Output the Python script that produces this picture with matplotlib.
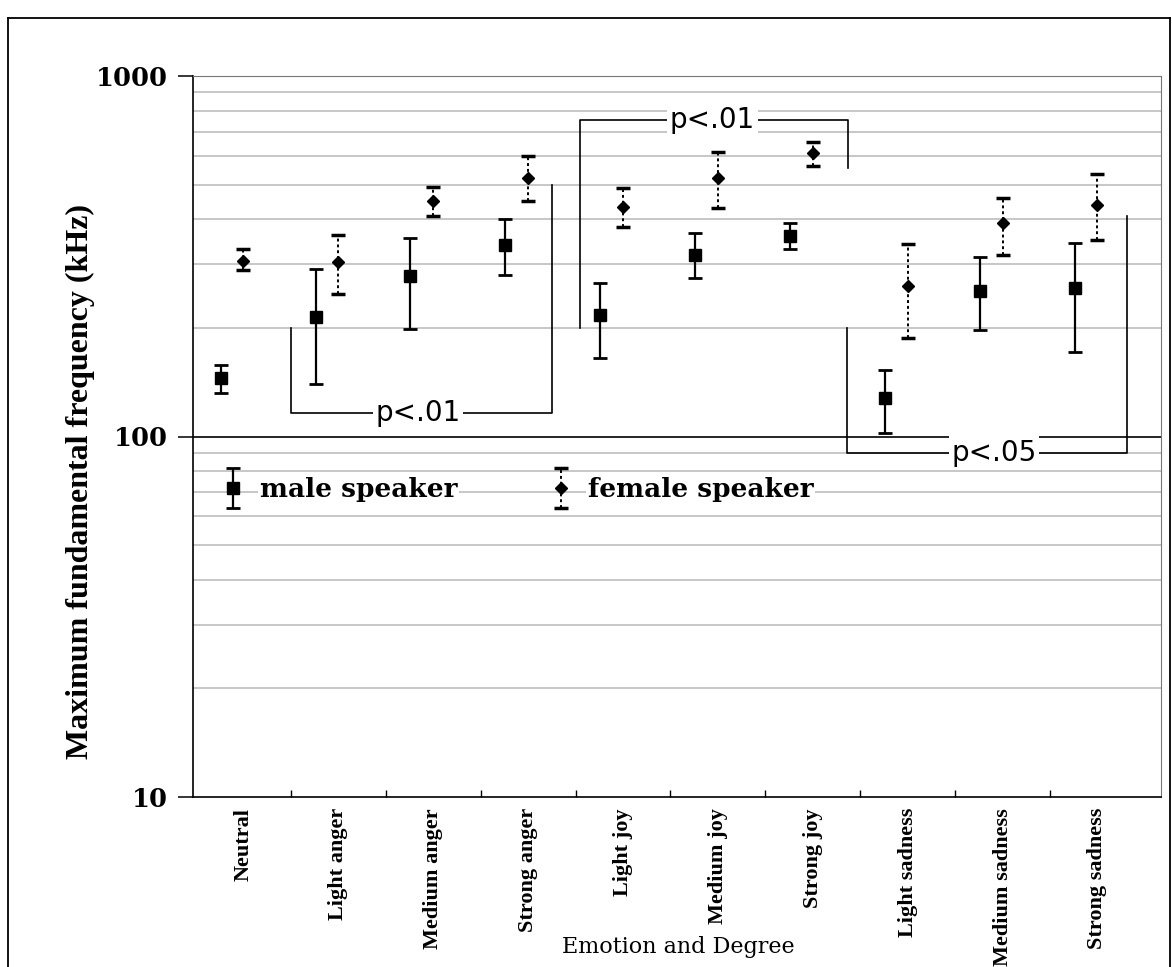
import numpy as np
import matplotlib.pyplot as plt
from matplotlib.ticker import FixedLocator, NullFormatter, FixedFormatter, NullLocator
from matplotlib.legend_handler import HandlerErrorbar
from matplotlib.lines import Line2D

# categories
emotions = ['Neutral', 'Light anger', 'Medium anger', 'Strong anger', 'Light joy',
            'Medium joy', 'Strong joy', 'Light sadness', 'Medium sadness', 'Strong sadness']

# male speaker: mean, lower end, upper end of error bar
male_mean = [145, 215, 278, 339, 217, 318, 361, 128, 254, 259]
male_low = [132, 140, 199, 280, 165, 276, 332, 102, 197, 172]
male_high = [158, 292, 356, 400, 267, 368, 392, 153, 314, 345]

# female speaker
female_mean = [306, 304, 449, 520, 432, 520, 610, 262, 390, 440]
female_low = [289, 248, 408, 451, 380, 429, 564, 188, 318, 350]
female_high = [332, 363, 491, 598, 488, 614, 658, 343, 460, 536]

# significance brackets
br_text = ['p<.01', 'p<.01', 'p<.05']
br_x0 = [0.5, 3.55, 6.36]
br_x1 = [3.25, 6.37, 9.31]
br_y = [116, 757, 90]
br_y0 = [200, 200, 200]
br_y1 = [500, 557, 410]
br_tx = [1.84, 4.94, 7.91]

yticks = [10, 100, 1000]

fig = plt.figure(figsize=(11.72, 9.67), dpi=100)
ax = fig.add_axes([193 / 1172, 1 - 797 / 967, 968 / 1172, 721 / 967])

x = np.arange(len(emotions))
m_mean = np.array(male_mean)
f_mean = np.array(female_mean)
m_err = [m_mean - np.array(male_low), np.array(male_high) - m_mean]
f_err = [f_mean - np.array(female_low), np.array(female_high) - f_mean]

eb_m = ax.errorbar(x - 0.24, m_mean, yerr=m_err, fmt='s', color='black', ms=9,
                   elinewidth=1.6, capsize=5, capthick=2, zorder=5, label='male speaker')
eb_f = ax.errorbar(x, f_mean, yerr=f_err, fmt='D', color='black', ms=6.5,
                   elinewidth=1.4, capsize=5, capthick=2.5, zorder=5, label='female speaker')
eb_f[2][0].set_linestyle((0, (1.5, 1.5)))

ax.set_yscale('log')
ax.set_ylim(10, 1000)
ax.set_xlim(-0.532, 9.67)

# grid
for v in list(range(20, 100, 10)) + list(range(200, 1000, 100)):
    ax.axhline(v, color='#b8b8b8', lw=1.1, zorder=1)
ax.axhline(100, color='black', lw=1.2, zorder=2)
ax.axhline(1000, color='#777777', lw=1.2, zorder=2)

# brackets
for t, x0, x1, y, y0, y1, tx in zip(br_text, br_x0, br_x1, br_y, br_y0, br_y1, br_tx):
    ax.plot([x0, x0, x1, x1], [y0, y, y, y1], color='black', lw=1.2, zorder=3)
    ax.text(tx, y, t, ha='center', va='center', fontsize=20, family='DejaVu Sans',
            zorder=4, bbox=dict(facecolor='white', edgecolor='none', pad=2))

# axes styling
for s in ['top', 'right']:
    ax.spines[s].set_color('#777777')
ax.spines['left'].set_linewidth(1.2)
ax.spines['bottom'].set_linewidth(1.2)

ax.yaxis.set_major_locator(FixedLocator(yticks))
ax.yaxis.set_major_formatter(FixedFormatter([str(v) for v in yticks]))
ax.yaxis.set_minor_locator(NullLocator())
ax.tick_params(axis='y', which='major', direction='out', length=11, width=1.1, pad=7)
for lab in ax.get_yticklabels():
    lab.set_family('DejaVu Serif')
    lab.set_weight('bold')
    lab.set_fontsize(18.5)

ax.xaxis.set_major_locator(FixedLocator(x[:-1] + 0.5))
ax.xaxis.set_major_formatter(NullFormatter())
ax.xaxis.set_minor_locator(FixedLocator(x))
ax.xaxis.set_minor_formatter(FixedFormatter(emotions))
ax.tick_params(axis='x', which='major', direction='in', length=5, width=1)
ax.tick_params(axis='x', which='minor', length=0, pad=8)
for lab in ax.get_xticklabels(minor=True):
    lab.set_rotation(90)
    lab.set_va('top')
    lab.set_family('Liberation Serif')
    lab.set_weight('bold')
    lab.set_fontsize(16)

ax.set_ylabel('Maximum fundamental frequency (kHz)', family='Liberation Serif',
              fontweight='bold', fontsize=23)
ax.yaxis.set_label_coords(-0.101, 0.438)
fig.text(678 / 1172, 1 - 947 / 967, 'Emotion and Degree', ha='center', va='center',
         family='DejaVu Serif', fontsize=16)

leg = ax.legend(handles=[eb_m, eb_f], ncol=2, loc='center left',
                bbox_to_anchor=(0.028, 0.426), frameon=False, handlelength=1.0,
                handletextpad=0.5, columnspacing=3.45, borderaxespad=0, borderpad=0,
                prop={'family': 'DejaVu Serif', 'weight': 'bold', 'size': 19},
                handler_map={type(eb_m): HandlerErrorbar(yerr_size=0.75)})
for t in leg.get_texts():
    t.set_bbox(dict(facecolor='white', edgecolor='none', pad=1))

# outer frame
fig.add_artist(Line2D([8 / 1172, 8 / 1172], [0, 1 - 18 / 967], color='black', lw=1.3))
fig.add_artist(Line2D([8 / 1172, 1170 / 1172], [1 - 18 / 967, 1 - 18 / 967], color='black', lw=1.3))
fig.add_artist(Line2D([1170 / 1172, 1170 / 1172], [0, 1 - 18 / 967], color='black', lw=1.3))

fig.savefig('out.png', dpi=100)
